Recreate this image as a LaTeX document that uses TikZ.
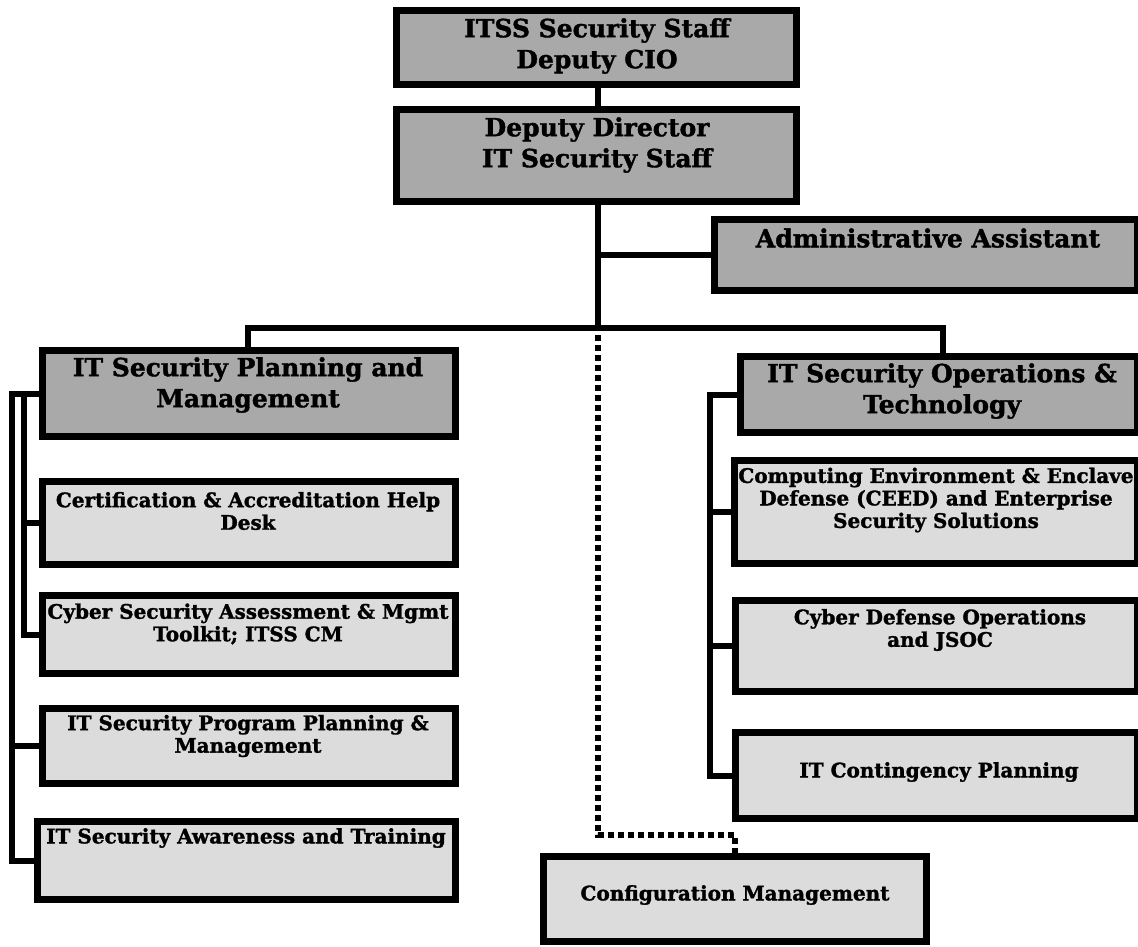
\documentclass[tikz,border=0pt]{standalone}
\usepackage{fontspec}
\setmainfont{DejaVu Serif}[BoldFeatures={FakeBold=1.5}]
\usepackage{tikz}
\usetikzlibrary{calc}
\definecolor{hdrgray}{HTML}{A9A9A9}
\definecolor{subgray}{HTML}{DCDCDC}
\tikzset{
  box/.style={draw=black,line width=7pt,inner sep=0pt},
  hdrbox/.style={box,fill=hdrgray},
  subbox/.style={box,fill=subgray},
  hdrtext/.style={align=center,inner sep=0pt,font=\fontsize{25}{31}\selectfont\bfseries},
  subtext/.style={align=center,inner sep=0pt,font=\fontsize{20}{22.5}\selectfont\bfseries},
  link/.style={line width=6pt},
  dotlink/.style={line width=6pt,dash pattern=on 6pt off 4pt}
}

\begin{document}
\begin{tikzpicture}[x=1pt,y=-1pt]
  \useasboundingbox (0,0) rectangle (1138,947);

  % top of the chart
  \node[hdrbox,minimum width=400pt,minimum height=74pt] (itss) at (596.5,47.5) {};
  \node[hdrbox,minimum width=400pt,minimum height=92pt] (ddir) at (596.5,155.5) {};
  \node[hdrbox,minimum width=423pt,minimum height=71pt] (admin) at (926,255) {};
  \node[hdrtext] (itsst) at (597,46) {ITSS Security Staff\\Deputy CIO};
  \node[hdrtext] (ddirt) at (597,145) {Deputy Director\\IT Security Staff};
  \node[hdrtext] (admint) at (928,238) {Administrative Assistant};

  % planning and management
  \node[hdrbox,minimum width=413pt,minimum height=86pt] (plan) at (249,393.5) {};
  \node[subbox,minimum width=413pt,minimum height=83pt] (cert) at (249,523) {};
  \node[subbox,minimum width=413pt,minimum height=78pt] (csam) at (249,634.5) {};
  \node[subbox,minimum width=413pt,minimum height=75pt] (ppm) at (249,746) {};
  \node[subbox,minimum width=418pt,minimum height=78pt] (sat) at (246.5,860.5) {};
  \node[hdrtext] (plant) at (248,385) {IT Security Planning and\\Management};
  \node[subtext] (certt) at (248,511) {Certification \& Accreditation Help\\Desk};
  \node[subtext] (csamt) at (248,624) {Cyber Security Assessment \& Mgmt\\Toolkit; ITSS CM};
  \node[subtext] (ppmt) at (248,736) {IT Security Program Planning \&\\Management};
  \node[subtext] (satt) at (246,838) {IT Security Awareness and Training};

  % operations and technology
  \node[hdrbox,minimum width=397pt,minimum height=76pt] (ops) at (939,394.5) {};
  \node[subbox,minimum width=403pt,minimum height=103pt] (ceed) at (936,512) {};
  \node[subbox,minimum width=402pt,minimum height=91pt] (cdo) at (936.5,646) {};
  \node[subbox,minimum width=402pt,minimum height=86pt] (cont) at (936.5,775.5) {};
  \node[hdrtext] (opst) at (942,391) {IT Security Operations \&\\Technology};
  \node[subtext] (ceedt) at (936,500) {Computing Environment \& Enclave\\Defense (CEED) and Enterprise\\Security Solutions};
  \node[subtext] (cdot) at (940,630) {Cyber Defense Operations\\and JSOC};
  \node[subtext] (contt) at (939,772) {IT Contingency Planning};

  % configuration management
  \node[subbox,minimum width=383pt,minimum height=85pt] (cm) at (735,899) {};
  \node[subtext] (cmt) at (735,895) {Configuration Management};

  % connectors
  \coordinate (tr) at (598,0);
  \coordinate (bus) at (598,328);
  \coordinate (plx) at (248,0);
  \coordinate (opx) at (943,0);
  \coordinate (lo) at (12,0);
  \coordinate (li) at (24,0);
  \coordinate (rx) at (710,0);
  \coordinate (cmx) at (735,835);

  \draw[link] (itss.south -| tr) -- (ddir.north -| tr);
  \draw[link] (ddir.south -| tr) -- (bus);
  \draw[link] (admin.west) -- (admin.west -| tr);
  \draw[link] (plan.north -| plx) |- (bus) -| (ops.north -| opx);

  \draw[link] (plan.west) -| (sat.west -| lo) -- (sat.west);
  \draw[link] (ppm.west -| lo) -- (ppm.west);
  \draw[link] (plan.west -| li) |- (csam.west);
  \draw[link] (cert.west -| li) -- (cert.west);

  \draw[link] (ops.west) -| (cont.west -| rx) -- (cont.west);
  \draw[link] (ceed.west -| rx) -- (ceed.west);
  \draw[link] (cdo.west -| rx) -- (cdo.west);

  \draw[dotlink] (bus |- 0,335) |- (cmx) -- (cm.north -| cmx);
\end{tikzpicture}
\end{document}
